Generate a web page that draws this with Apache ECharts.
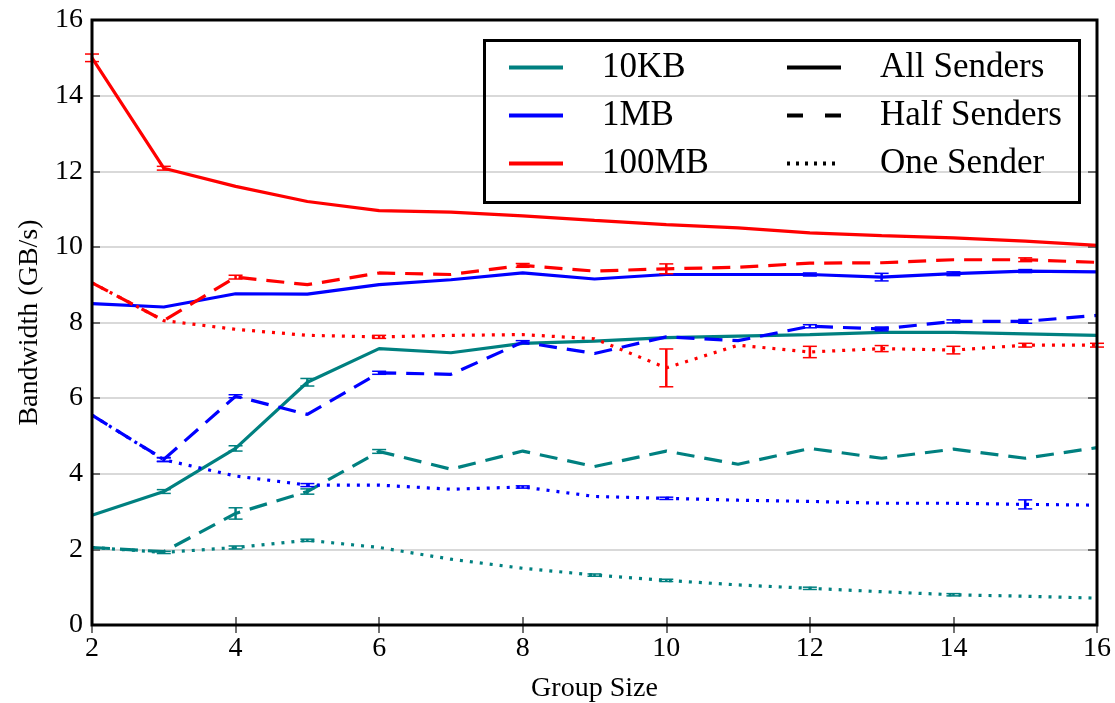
<!DOCTYPE html>
<html>
<head>
<meta charset="utf-8">
<script src="https://cdn.jsdelivr.net/npm/echarts@6/dist/echarts.min.js"></script>
<style>
html,body{margin:0;padding:0;background:#fff;}
#chart{width:1115px;height:703px;}
</style>
</head>
<body>
<div id="chart"></div>
<script>
// ---- data ----
const groupSizes = [2, 3, 4, 5, 6, 7, 8, 9, 10, 11, 12, 13, 14, 15, 16];
const xTicks = [2, 4, 6, 8, 10, 12, 14, 16];
const yTicks = [0, 2, 4, 6, 8, 10, 12, 14, 16];

const kb10_all  = [2.90, 3.53, 4.67, 6.42, 7.31, 7.20, 7.45, 7.51, 7.60, 7.64, 7.68, 7.74, 7.74, 7.70, 7.66];
const kb10_half = [2.05, 1.94, 2.95, 3.53, 4.59, 4.12, 4.60, 4.19, 4.60, 4.25, 4.67, 4.41, 4.65, 4.41, 4.69];
const kb10_one  = [2.05, 1.92, 2.05, 2.24, 2.05, 1.74, 1.50, 1.32, 1.18, 1.06, 0.97, 0.88, 0.80, 0.76, 0.71];

const mb1_all  = [8.50, 8.41, 8.76, 8.75, 9.00, 9.13, 9.31, 9.15, 9.27, 9.27, 9.27, 9.20, 9.29, 9.36, 9.34];
const mb1_half = [5.55, 4.38, 6.05, 5.57, 6.67, 6.63, 7.48, 7.18, 7.62, 7.52, 7.90, 7.83, 8.03, 8.03, 8.19];
const mb1_one  = [5.55, 4.37, 3.94, 3.70, 3.70, 3.59, 3.65, 3.40, 3.35, 3.30, 3.27, 3.22, 3.22, 3.19, 3.17];

const mb100_all  = [15.00, 12.08, 11.60, 11.20, 10.96, 10.92, 10.82, 10.70, 10.59, 10.50, 10.37, 10.30, 10.24, 10.15, 10.04];
const mb100_half = [9.05, 8.05, 9.20, 9.00, 9.31, 9.27, 9.51, 9.36, 9.42, 9.46, 9.57, 9.58, 9.66, 9.66, 9.59];
const mb100_one  = [9.05, 8.05, 7.82, 7.66, 7.62, 7.66, 7.68, 7.57, 6.80, 7.40, 7.22, 7.31, 7.27, 7.40, 7.40];

// error bar half-widths (GB/s), 0 = not visible
const kb10_all_err  = [0, 0.05, 0.07, 0.1, 0, 0, 0, 0, 0, 0, 0, 0, 0, 0, 0];
const kb10_half_err = [0, 0, 0.15, 0.07, 0.05, 0, 0, 0, 0, 0, 0, 0, 0, 0, 0];
const kb10_one_err  = [0, 0.03, 0.04, 0.03, 0, 0, 0, 0.03, 0.03, 0, 0.03, 0, 0.03, 0, 0];
const mb1_all_err   = [0, 0, 0, 0, 0, 0, 0, 0, 0, 0, 0.04, 0.1, 0.05, 0.04, 0];
const mb1_half_err  = [0, 0.05, 0.04, 0, 0.04, 0, 0.04, 0, 0, 0, 0.04, 0.05, 0.04, 0.05, 0];
const mb1_one_err   = [0, 0.05, 0, 0.04, 0, 0, 0.03, 0, 0.03, 0, 0, 0, 0, 0.12, 0];
const mb100_all_err  = [0.1, 0.05, 0, 0, 0, 0, 0, 0, 0, 0, 0, 0, 0, 0, 0];
const mb100_half_err = [0, 0, 0.05, 0, 0, 0, 0.05, 0, 0.13, 0, 0, 0, 0, 0.05, 0];
const mb100_one_err  = [0, 0, 0, 0, 0.04, 0, 0, 0, 0.5, 0, 0.15, 0.08, 0.1, 0.05, 0.05];

const sizeNames = ['10KB', '1MB', '100MB'];
const modeNames = ['All Senders', 'Half Senders', 'One Sender'];

// ---- styles ----
const colors = {'10KB': '#008080', '1MB': '#0000ff', '100MB': '#ff0000'};
const dashes = {'All Senders': 'solid', 'Half Senders': [18, 10], 'One Sender': [3, 7]};
const legendDashes = {'All Senders': 'solid', 'Half Senders': [16, 22], 'One Sender': [3, 6]};
const FONT = 'Liberation Serif';

const seriesDefs = [
  ['10KB', 'All Senders', kb10_all, kb10_all_err],
  ['10KB', 'Half Senders', kb10_half, kb10_half_err],
  ['10KB', 'One Sender', kb10_one, kb10_one_err],
  ['1MB', 'All Senders', mb1_all, mb1_all_err],
  ['1MB', 'Half Senders', mb1_half, mb1_half_err],
  ['1MB', 'One Sender', mb1_one, mb1_one_err],
  ['100MB', 'All Senders', mb100_all, mb100_all_err],
  ['100MB', 'Half Senders', mb100_half, mb100_half_err],
  ['100MB', 'One Sender', mb100_one, mb100_one_err]
];

const series = [];
seriesDefs.forEach(([size, mode, vals, errs]) => {
  series.push({
    name: size + ' ' + mode,
    type: 'line',
    data: groupSizes.map((g, i) => [g, vals[i]]),
    symbol: 'none',
    silent: true,
    animation: false,
    lineStyle: {color: colors[size], width: 3.2, type: dashes[mode], cap: 'butt'},
    z: 3
  });
  series.push({
    name: size + ' ' + mode + ' err',
    type: 'custom',
    silent: true,
    animation: false,
    data: groupSizes.map((g, i) => [g, vals[i], errs[i]]).filter(d => d[2] > 0),
    encode: {x: 0, y: 1},
    z: 4,
    renderItem: function (params, api) {
      const x = api.value(0), y = api.value(1), e = api.value(2);
      const t = api.coord([x, y + e]);
      const b = api.coord([x, y - e]);
      const cw = 7;
      const st = {stroke: colors[size], lineWidth: 2.5};
      return {
        type: 'group',
        children: [
          {type: 'line', shape: {x1: t[0], y1: t[1], x2: b[0], y2: b[1]}, style: st},
          {type: 'line', shape: {x1: t[0] - cw, y1: t[1], x2: t[0] + cw, y2: t[1]}, style: {stroke: colors[size], lineWidth: 1.5}},
          {type: 'line', shape: {x1: b[0] - cw, y1: b[1], x2: b[0] + cw, y2: b[1]}, style: {stroke: colors[size], lineWidth: 1.5}}
        ]
      };
    }
  });
});

// legend-only series
sizeNames.forEach(s => series.push({
  name: s, type: 'line', data: [], symbol: 'none',
  lineStyle: {color: colors[s], width: 4, type: 'solid'}, itemStyle: {color: colors[s], opacity: 0}
}));
modeNames.forEach(m => series.push({
  name: m, type: 'line', data: [], symbol: 'none',
  lineStyle: {color: '#000', width: 4, type: legendDashes[m], cap: 'butt'}, itemStyle: {color: '#000', opacity: 0}
}));

function makeLegend(names, left, lineType) {
  const ls = {width: 4};
  if (lineType) ls.type = lineType;
  return {
    data: names, left: left, top: 50,
    orient: 'vertical', padding: 0, itemWidth: 54, itemHeight: 14, itemGap: 13,
    selectedMode: false,
    itemStyle: {opacity: 0},
    lineStyle: ls,
    textStyle: {fontFamily: FONT, fontSize: 35, color: '#000', lineHeight: 35, padding: [0, 0, 0, 34]}
  };
}

const option = {
  animation: false,
  backgroundColor: '#fff',
  grid: {left: 92, right: 18, top: 20, bottom: 78, show: true, borderColor: '#000', borderWidth: 3,
         backgroundColor: 'transparent', z: 10, containLabel: false, outerBoundsMode: 'none'},
  legend: [makeLegend(sizeNames, 507, 'solid'), makeLegend(modeNames, 785, null)],
  graphic: [{
    type: 'rect', left: 483, top: 39, z: 50,
    shape: {width: 595, height: 162},
    style: {fill: 'transparent', stroke: '#000', lineWidth: 3}
  }],
  xAxis: [{
    type: 'value', min: xTicks[0], max: xTicks[xTicks.length - 1], interval: 2,
    name: 'Group Size', nameLocation: 'middle', nameGap: 50,
    nameTextStyle: {fontFamily: FONT, fontSize: 28, color: '#000'},
    axisLine: {show: false},
    axisTick: {show: true, inside: true, length: 8, lineStyle: {color: '#444', width: 1.5}},
    axisLabel: {fontFamily: FONT, fontSize: 28, color: '#000', margin: 10},
    splitLine: {show: false}
  }, {
    type: 'value', position: 'top', min: xTicks[0], max: xTicks[xTicks.length - 1], interval: 2,
    axisLine: {show: false},
    axisTick: {show: true, inside: true, length: 8, lineStyle: {color: '#444', width: 1.5}},
    axisLabel: {show: false}, splitLine: {show: false}
  }],
  yAxis: [{
    type: 'value', min: yTicks[0], max: yTicks[yTicks.length - 1], interval: 2,
    name: 'Bandwidth (GB/s)', nameLocation: 'middle', nameGap: 45, nameRotate: 90,
    nameTextStyle: {fontFamily: FONT, fontSize: 28, color: '#000'},
    axisLine: {show: false},
    axisTick: {show: true, inside: true, length: 8, lineStyle: {color: '#444', width: 1.5}},
    axisLabel: {fontFamily: FONT, fontSize: 28, color: '#000', margin: 9},
    splitLine: {show: true, lineStyle: {color: '#cccccc', width: 1.5}}
  }, {
    type: 'value', position: 'right', min: yTicks[0], max: yTicks[yTicks.length - 1], interval: 2,
    axisLine: {show: false},
    axisTick: {show: true, inside: true, length: 9, lineStyle: {color: '#444', width: 1.5}},
    axisLabel: {show: false}, splitLine: {show: false}
  }],
  series: series
};

const chart = echarts.init(document.getElementById('chart'), null, {renderer: 'canvas'});
chart.setOption(option);
</script>
</body>
</html>
